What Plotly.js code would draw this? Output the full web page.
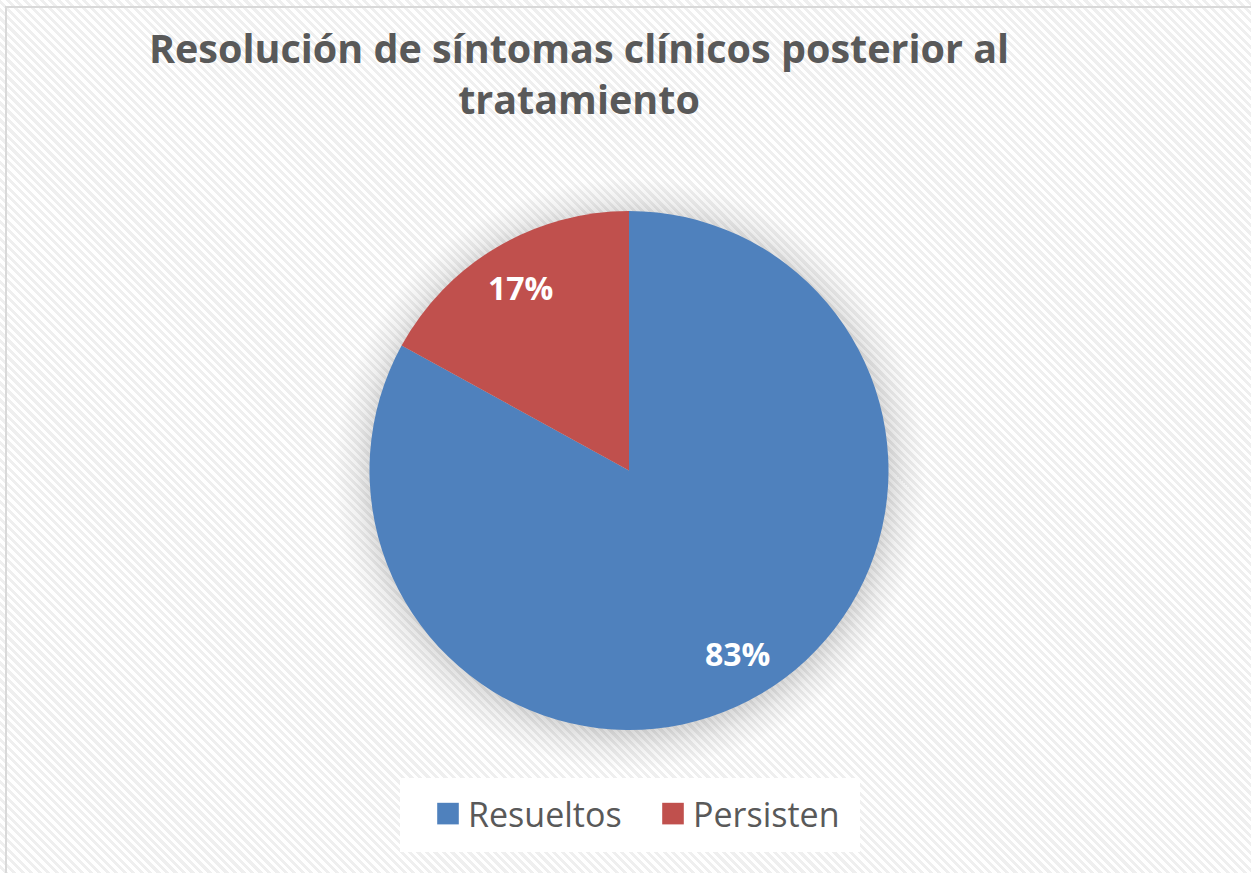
<!DOCTYPE html>
<html>
<head>
<meta charset="utf-8">
<script src="https://cdn.plot.ly/plotly-3.0.1.min.js"></script>
<style>
  html, body { margin: 0; padding: 0; background: #ffffff; }
  #wrap {
    position: relative; width: 1251px; height: 873px; overflow: hidden;
    background:
      radial-gradient(circle at 630px 474px, rgba(0,0,0,0.15) 256px, rgba(0,0,0,0.06) 274px, rgba(0,0,0,0) 296px),
      repeating-linear-gradient(45deg, #ffffff 0px, #ffffff 3px, #efefef 3px, #efefef 6px);
  }
  #frame {
    position: absolute; left: 5px; top: 6px; width: 1300px; height: 900px;
    border-left: 2px solid #d9d9d9; border-top: 2px solid #d9d9d9; pointer-events: none;
  }
  #chart { position: absolute; left: 0; top: 0; width: 1251px; height: 873px; }
</style>
</head>
<body>
<div id="wrap">
  <div id="chart"></div>
  <div id="frame"></div>
</div>
<script>
const categories = ["Resueltos", "Persisten"];
const values = [83, 17];
const colors = ["#4F81BD", "#C0504D"];
const titleText = "Resolución de síntomas clínicos posterior al<br>tratamiento";

const FONT = "'Open Sans', Lato, sans-serif";
const W = 1251, H = 873;
const M = { l: 110, r: 103, t: 211, b: 143 };
const plotW = W - M.l - M.r, plotH = H - M.t - M.b;
const radiusPx = Math.min(plotW, plotH) / 2;
const labelFrac = 0.82;

// percentage labels placed at the middle angle of each slice (clockwise from 12 o'clock)
const total = values.reduce((a, b) => a + b, 0);
let cum = 0;
const annotations = values.map(function (v) {
  const mid = (cum + v / 2) / total * 2 * Math.PI;
  cum += v;
  return {
    xref: "paper", yref: "paper",
    x: 0.5 + radiusPx * labelFrac * Math.sin(mid) / plotW,
    y: 0.5 + radiusPx * labelFrac * Math.cos(mid) / plotH,
    text: Math.round(v / total * 100) + "%",
    showarrow: false,
    xanchor: "center", yanchor: "middle",
    font: { family: FONT, size: 32, color: "#ffffff", weight: "bold" }
  };
});

const data = [{
  type: "pie",
  labels: categories,
  values: values,
  sort: false,
  direction: "clockwise",
  rotation: 0,
  marker: { colors: colors, line: { width: 0 } },
  textinfo: "none",
  hoverinfo: "none",
  domain: { x: [0, 1], y: [0, 1] }
}];

const layout = {
  width: W,
  height: H,
  paper_bgcolor: "rgba(0,0,0,0)",
  plot_bgcolor: "rgba(0,0,0,0)",
  margin: { l: M.l, r: M.r, t: M.t, b: M.b, autoexpand: false },
  title: {
    text: titleText,
    x: 579 / W,
    xanchor: "center",
    xref: "container",
    y: 1 - 63 / H,
    yanchor: "top",
    yref: "container",
    font: { family: FONT, size: 39.5, color: "#595959", weight: "bold" }
  },
  annotations: annotations,
  shapes: [{
    type: "rect", xref: "paper", yref: "paper", layer: "below",
    x0: (400 - M.l) / plotW, x1: (860 - M.l) / plotW,
    y0: (H - M.b - 852) / plotH, y1: (H - M.b - 778) / plotH,
    fillcolor: "#ffffff", line: { width: 0 }
  }],
  showlegend: true,
  legend: {
    orientation: "h",
    x: (653 - M.l) / plotW,
    xanchor: "center",
    xref: "paper",
    y: 59 / H,
    yanchor: "middle",
    yref: "container",
    bgcolor: "rgba(0,0,0,0)",
    borderwidth: 0,
    entrywidth: 180,
    entrywidthmode: "pixels",
    font: { family: FONT, size: 34, color: "#595959" },
    traceorder: "normal"
  }
};

Plotly.newPlot("chart", data, layout, { displayModeBar: false, staticPlot: true }).then(function () {
  document.querySelectorAll("#chart .legendpoints path").forEach(function (p) {
    const t = p.getAttribute("transform") || "";
    p.setAttribute("transform", t + " scale(1.8)");
  });
});
</script>
</body>
</html>
